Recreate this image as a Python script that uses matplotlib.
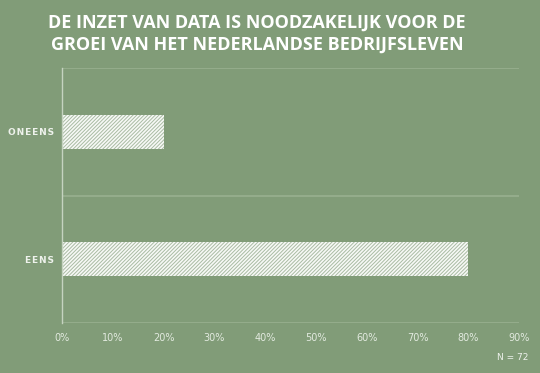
import matplotlib
matplotlib.use("Agg")
import matplotlib.pyplot as plt
from matplotlib.ticker import FuncFormatter, MultipleLocator

categories = ["EENS", "ONEENS"]
values = [0.80, 0.20]
title = "DE INZET VAN DATA IS NOODZAKELIJK VOOR DE\nGROEI VAN HET NEDERLANDSE BEDRIJFSLEVEN"
note = "N = 72"

bg = "#819c78"
plt.rcParams['hatch.linewidth'] = 0.7

fig = plt.figure(figsize=(5.4, 3.73), dpi=100, facecolor=bg)
ax = fig.add_axes([62/540, 1-323/373, (519-62)/540, (323-68)/373])
ax.set_facecolor(bg)

y = list(range(len(categories)))
ax.barh(y, values, height=0.27, color="#f7f9f6", edgecolor="#a9bba3",
        hatch="/////////", linewidth=0)
ax.set_ylim(-0.5, 1.5)
ax.set_xlim(0, 0.9)
ax.xaxis.set_major_locator(MultipleLocator(0.1))
ax.xaxis.set_major_formatter(FuncFormatter(lambda v, p: f"{v*100:.0f}%"))
ax.set_yticks(y)
sp = "\u200a"
ax.set_yticklabels([sp.join(c) for c in categories], fontweight="bold",
                   fontsize=6.5, color="#eef2ec", family="DejaVu Sans")
ax.tick_params(axis="y", length=0, pad=6)
ax.tick_params(axis="x", length=0, pad=7, labelsize=7, labelcolor="#e2eadf")

for s in ["top", "right", "bottom"]:
    ax.spines[s].set_visible(False)
ax.spines["left"].set_color("#c5d3c0")
ax.spines["left"].set_linewidth(1.0)

for yy in [-0.5, 0.5, 1.5]:
    ax.axhline(yy, color="#98b08f", linewidth=1.2, zorder=0)

fig.text(257/540, 1-34/373, title, ha="center", va="center", color="white",
         fontsize=13, fontweight="bold", family="Open Sans", linespacing=1.3)
fig.text(528/540, 1-358/373, note, ha="right", va="center", color="#eef2ec",
         fontsize=6.5)

fig.savefig("out.png", dpi=100, facecolor=bg)
